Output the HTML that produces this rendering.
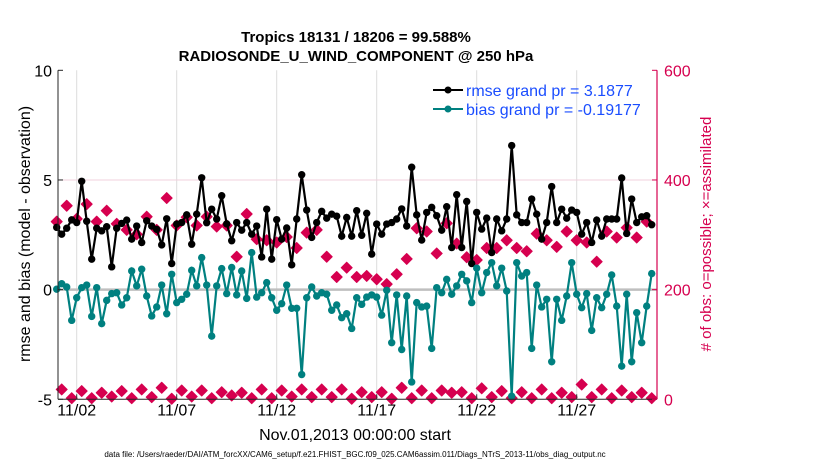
<!DOCTYPE html>
<html><head><meta charset="utf-8"><style>
body{margin:0;background:#fff;}
svg{display:block;font-family:"Liberation Sans",sans-serif;}
</style></head><body>
<svg id="chart" width="830" height="470" viewBox="0 0 830 470">
<text x="356" y="42" text-anchor="middle" font-size="15" font-weight="bold">Tropics 18131 / 18206 = 99.588%</text>
<text x="356" y="61" text-anchor="middle" font-size="15" font-weight="bold">RADIOSONDE_U_WIND_COMPONENT @ 250 hPa</text>
<g id="grid"></g><g id="marks"></g><g id="axes"></g>
<g>
<line x1="433" y1="90" x2="463" y2="90" stroke="#000" stroke-width="2"/><circle cx="448" cy="90" r="3.5" fill="#000"/>
<text x="466" y="96" font-size="16" fill="#1a4dff">rmse grand pr = 3.1877</text>
<line x1="433" y1="109" x2="463" y2="109" stroke="#008080" stroke-width="2"/><circle cx="448" cy="109" r="3.5" fill="#008080"/>
<text x="466" y="115" font-size="16" fill="#1a4dff">bias grand pr = -0.19177</text>
</g>
<text x="355" y="440" text-anchor="middle" font-size="16">Nov.01,2013 00:00:00 start</text>
<text x="355" y="457" text-anchor="middle" font-size="8">data file: /Users/raeder/DAI/ATM_forcXX/CAM6_setup/f.e21.FHIST_BGC.f09_025.CAM6assim.011/Diags_NTrS_2013-11/obs_diag_output.nc</text>
<text transform="translate(30,234) rotate(-90)" text-anchor="middle" font-size="16">rmse and bias (model - observation)</text>
<text transform="translate(711,234) rotate(-90)" text-anchor="middle" font-size="15" fill="#d6004f"># of obs: o=possible; ×=assimilated</text>
</svg>
<script>
const rmse=[2.84,2.53,2.80,3.18,3.06,4.94,3.12,1.39,2.80,2.68,2.87,1.04,2.80,3.02,3.17,2.30,2.90,2.15,3.14,2.90,2.75,2.04,3.23,1.19,2.99,3.06,3.41,2.07,3.44,5.1,
3.05,3.67,3.22,4.28,3.0,2.23,3.06,2.71,3.06,2.53,2.90,1.49,3.67,1.39,3.19,2.30,2.81,1.13,3.22,5.24,3.63,2.38,3.06,3.57,3.26,3.44,3.35,2.44,3.29,2.44,
3.6,2.48,3.48,1.62,2.99,2.53,2.99,3.06,3.22,3.68,2.9,5.58,3.41,2.26,3.52,3.75,3.37,2.71,3.78,1.92,4.33,1.92,4.02,1.19,3.52,2.76,3.26,1.69,3.22,2.68,
3.22,6.57,3.41,3.06,3.06,4.13,3.44,2.30,3.06,4.70,3.06,3.67,3.26,3.63,3.52,2.53,3.06,2.15,3.17,2.44,3.22,3.22,3.22,5.09,2.56,4.13,3.06,3.32,3.37,2.96];
const bias=[0.02,0.27,0.12,-1.40,-0.37,0.09,0.21,-1.22,0.09,-1.55,-0.49,-0.18,-0.14,-0.70,-0.37,0.85,0.17,0.93,-0.29,-1.2,-0.79,0.21,-1.1,0.70,-0.59,-0.44,-0.21,0.88,0.17,1.46,
0.21,-2.12,0.17,0.96,-0.18,1.01,-0.24,0.85,-0.40,1.69,-0.34,-0.14,0.32,-0.37,-0.94,-0.64,0.21,-0.85,-0.85,-3.87,-0.37,0.12,-0.29,-0.14,-0.21,-0.94,-0.70,-1.28,-1.10,-1.77,
-0.37,-0.67,-0.34,-0.24,-0.34,-1.16,-0.03,-2.42,-0.24,-2.73,-0.29,-4.21,-0.59,-0.79,-0.75,-2.68,0.09,-0.14,0.47,-0.21,0.17,0.70,0.40,-0.59,0.98,-0.14,0.78,1.23,0.17,0.98,
-0.06,-4.86,1.23,0.62,0.78,-2.68,0.21,-0.79,-0.44,-3.29,-0.44,-1.40,-0.29,1.23,-0.21,-0.82,-0.18,-1.86,-0.37,-0.82,-0.21,0.67,-0.75,-3.49,-0.21,-3.29,-1.05,-2.42,-0.75,0.73];
const obsHigh=[324,353,329,356,324,344,320,309,301,333,309,367,317,332,317,
333,315,317,260,338,292,290,286,296,276,304,309,260,223,240,
223,225,219,210,228,256,312,306,266,321,284,259,254,276,276,
290,276,270,302,290,278,306,290,286,251,306,295,313,295,324];
const obsLow=[18,2,15,2,12,5,15,2,18,4,21,1,16,5,16,
2,13,7,12,2,18,2,16,5,18,4,18,4,18,1,
13,4,13,1,21,2,16,2,16,12,13,2,20,4,15,
2,13,2,18,2,12,4,27,4,18,2,16,4,12,2];
const xTickDays=[1,6,11,16,21,26];
const xTickLabels=["11/02","11/07","11/12","11/17","11/22","11/27"];
const yLTicks=[-5,0,5,10];
const yRTicks=[0,200,400,600];

const L=58,R=657,T=70.3,B=399.3;
const xScale=d=>56.7+d*20.0;
const yL=v=>B-(v+5)/15*(B-T);
const yR=v=>B-v/600*(B-T);
const NS="http://www.w3.org/2000/svg";
function mk(parent,tag,attrs){const e=document.createElementNS(NS,tag);for(const k in attrs)e.setAttribute(k,attrs[k]);parent.appendChild(e);return e;}
const grid=document.getElementById('grid'),marks=document.getElementById('marks'),axes=document.getElementById('axes');
xTickDays.forEach((d,i)=>{
  const g=mk(grid,'line',{x1:xScale(d),x2:xScale(d),y1:T,y2:B,stroke:'#dcdcdc','stroke-width':1});
  
  
  const t=mk(axes,'text',{x:xScale(d),y:B+16,'text-anchor':'middle','font-size':16});
  t.textContent=xTickLabels[i];
  
  
  mk(axes,'line',{x1:xScale(d),x2:xScale(d),y1:B,y2:B-5,stroke:'#333'});
});
const h=mk(grid,'line',{x1:L,x2:R,y1:yL(5),y2:yL(5),stroke:'#f0d0dc','stroke-width':1});


const z=mk(grid,'line',{x1:L,x2:R,y1:yL(0),y2:yL(0),stroke:'#bfbfbf','stroke-width':2.5});


function diamond(x,y){return `${x},${y-5.5} ${x+5.5},${y} ${x},${y+5.5} ${x-5.5},${y}`;}
for(let i=0;i<120;i++){
  const v=(i%2===0)?obsHigh[i/2]:obsLow[(i-1)/2];
  const p=mk(marks,'polygon',{points:diamond(xScale(i/4),yR(v)),fill:'#d6004f','stroke':'#d6004f','stroke-width':1,'stroke-linejoin':'round'});
  
  
}
function series(arr,color,name){
  const pts=arr.map((v,i)=>xScale(i/4)+','+yL(v)).join(' ');
  const pl=mk(marks,'polyline',{points:pts,fill:'none',stroke:color,'stroke-width':2.2});
  
  
  arr.forEach((v,i)=>{
    const c=mk(marks,'circle',{cx:xScale(i/4),cy:yL(v),r:3.7,fill:color});
    
    
  });
}
series(rmse,'#000','rmse');
series(bias,'#008080','bias');
mk(axes,'line',{x1:L,x2:L,y1:T,y2:B,stroke:'#262626','stroke-width':1});
mk(axes,'line',{x1:L,x2:R,y1:B,y2:B,stroke:'#262626','stroke-width':1});
mk(axes,'line',{x1:R,x2:R,y1:T,y2:B,stroke:'#d6004f','stroke-width':1.2});
yLTicks.forEach(v=>{
  mk(axes,'line',{x1:L,x2:L+5,y1:yL(v),y2:yL(v),stroke:'#262626'});
  const t=mk(axes,'text',{x:L-6,y:yL(v)+6,'text-anchor':'end','font-size':16});
  t.textContent=v;
  
  
});
yRTicks.forEach(v=>{
  mk(axes,'line',{x1:R,x2:R-5,y1:yR(v),y2:yR(v),stroke:'#d6004f'});
  const t=mk(axes,'text',{x:R+7,y:yR(v)+6,'font-size':16,fill:'#d6004f'});
  t.textContent=v;
  
  
});
</script>
</body></html>
